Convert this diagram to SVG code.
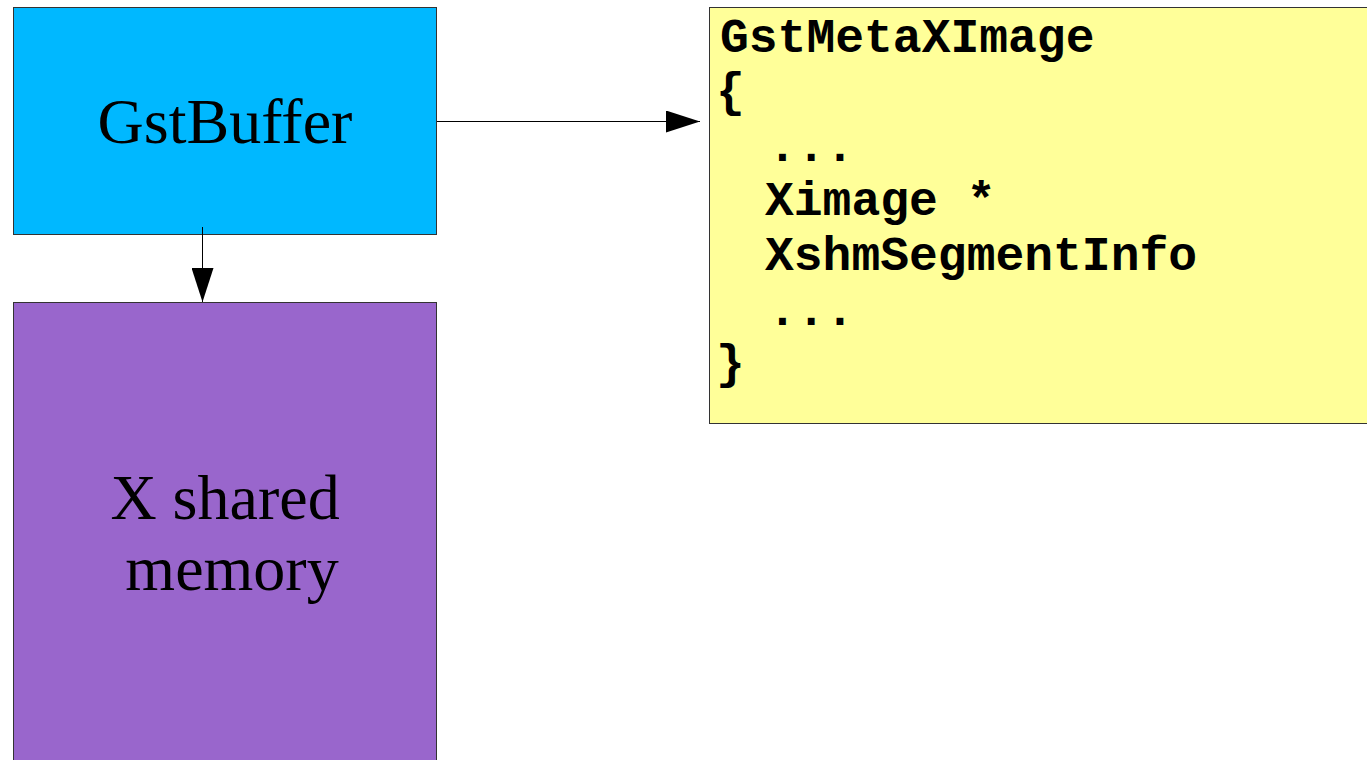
<svg xmlns="http://www.w3.org/2000/svg" width="1367" height="760" viewBox="0 0 1367 760">
  <defs>
    <style>
      .box { stroke: #333333; stroke-width: 1; }
      .serif { font-family: "Liberation Serif", "Times New Roman", serif; font-size: 64px; fill: #000000; }
      .mono { font-family: "Liberation Mono", "Courier New", monospace; font-size: 48px; font-weight: bold; fill: #000000; }
      .edge { stroke: #000000; stroke-width: 1; fill: none; }
    </style>
    <marker id="arrow" viewBox="0 0 34 22" refX="34" refY="11" markerWidth="34" markerHeight="22" markerUnits="userSpaceOnUse" orient="auto">
      <path d="M0,0 L34,11 L0,22 Z" fill="#000000"/>
    </marker>
  </defs>
  <rect width="1367" height="760" fill="#ffffff"/>

  <g id="gstbuffer">
    <rect class="box" x="13.5" y="7.5" width="423" height="227" fill="#00b8ff"/>
    <text class="serif" x="225" y="143" text-anchor="middle">GstBuffer</text>
  </g>

  <g id="xshm-memory">
    <rect class="box" x="13.5" y="302.5" width="423" height="470" fill="#9966cc"/>
    <text class="serif" x="225" y="519" text-anchor="middle">X shared</text>
    <text class="serif" x="232" y="590" text-anchor="middle">memory</text>
  </g>

  <g id="gstmetaximage">
    <rect class="box" x="709.5" y="7.5" width="670" height="416" fill="#ffff99"/>
    <text class="mono" x="720" y="52">GstMetaXImage</text>
    <text class="mono" x="716" y="106">{</text>
    <text class="mono" x="768" y="161">...</text>
    <text class="mono" x="765" y="215">Ximage *</text>
    <text class="mono" x="765" y="270">XshmSegmentInfo</text>
    <text class="mono" x="768" y="325">...</text>
    <text class="mono" x="716" y="378">}</text>
  </g>

  <g id="connectors">
    <line class="edge" x1="437" y1="121.5" x2="700" y2="121.5" marker-end="url(#arrow)"/>
    <line class="edge" x1="202.5" y1="227" x2="202.5" y2="302" marker-end="url(#arrow)"/>
  </g>
</svg>
